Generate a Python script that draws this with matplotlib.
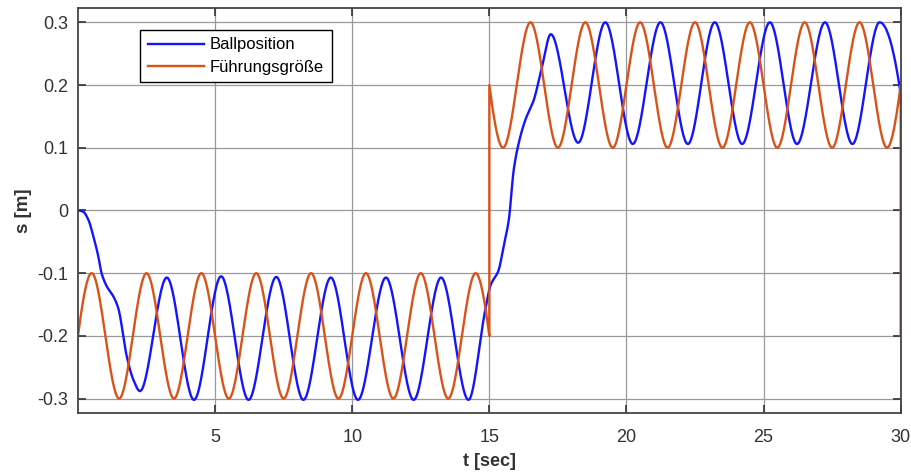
import matplotlib
matplotlib.use('Agg')
import matplotlib.pyplot as plt
import numpy as np

plt.rcParams['font.family'] = ['Liberation Sans', 'DejaVu Sans']
plt.rcParams['axes.unicode_minus'] = False

# Führungsgröße: turning points before and after the setpoint step at t = 15 s
ref_t1 = [0.0, 0.5, 1.5, 2.5, 3.5, 4.5, 5.5, 6.5, 7.5, 8.5, 9.5, 10.5, 11.5, 12.5, 13.5, 14.5, 15.0]
ref_s1 = [-0.2, -0.1, -0.3, -0.1, -0.3, -0.1, -0.3, -0.1, -0.3, -0.1, -0.3, -0.1, -0.3, -0.1, -0.3, -0.1, -0.2]
ref_t2 = [15.0, 15.5, 16.5, 17.5, 18.5, 19.5, 20.5, 21.5, 22.5, 23.5, 24.5, 25.5, 26.5, 27.5, 28.5, 29.5, 30.0]
ref_s2 = [0.2, 0.1, 0.3, 0.1, 0.3, 0.1, 0.3, 0.1, 0.3, 0.1, 0.3, 0.1, 0.3, 0.1, 0.3, 0.1, 0.2]
ref_end = -0.2

# Ballposition: sampled points of the measured response
ball_t = [0.0, 0.19, 0.38, 0.56, 0.74, 0.86, 1.05, 1.29, 1.47, 1.78, 2.02, 2.26,
          3.24, 4.23, 5.22, 6.22, 7.23, 8.22, 9.22, 10.21, 11.23, 12.24, 13.24, 14.24,
          14.85, 15.04, 15.34, 15.52, 15.71, 15.89, 16.07, 16.31, 16.62, 16.92, 17.24,
          18.24, 19.23, 20.23, 21.24, 22.24, 23.22, 24.22, 25.23, 26.22, 27.24, 28.24,
          29.23, 30.23]
ball_s = [0.0, -0.002, -0.015, -0.041, -0.073, -0.100, -0.121, -0.137, -0.156, -0.233, -0.270, -0.288,
          -0.107, -0.302, -0.105, -0.302, -0.106, -0.302, -0.107, -0.302, -0.107, -0.302, -0.107, -0.302,
          -0.159, -0.120, -0.095, -0.057, -0.015, 0.065, 0.107, 0.144, 0.176, 0.229, 0.281,
          0.108, 0.300, 0.106, 0.300, 0.106, 0.300, 0.106, 0.300, 0.106, 0.300, 0.106,
          0.300, 0.106]

yticks = [-0.3, -0.2, -0.1, 0, 0.1, 0.2, 0.3]
ytick_labels = ['-0.3', '-0.2', '-0.1', '0', '0.1', '0.2', '0.3']
xticks = [5, 10, 15, 20, 25, 30]


def pchip(xk, yk, x):
    # shape preserving cubic through the given points
    xk = np.asarray(xk, float)
    yk = np.asarray(yk, float)
    h = np.diff(xk)
    d = np.diff(yk) / h
    m = np.zeros_like(yk)
    w1 = 2 * h[1:] + h[:-1]
    w2 = h[1:] + 2 * h[:-1]
    ok = d[:-1] * d[1:] > 0
    m[1:-1][ok] = (w1[ok] + w2[ok]) / (w1[ok] / d[:-1][ok] + w2[ok] / d[1:][ok])

    def end_slope(h0, h1, d0, d1):
        s = ((2 * h0 + h1) * d0 - h0 * d1) / (h0 + h1)
        if np.sign(s) != np.sign(d0):
            return 0.0
        if np.sign(d0) != np.sign(d1) and abs(s) > abs(3 * d0):
            return 3 * d0
        return s

    m[0] = end_slope(h[0], h[1], d[0], d[1])
    m[-1] = end_slope(h[-1], h[-2], d[-1], d[-2])

    i = np.clip(np.searchsorted(xk, x) - 1, 0, len(h) - 1)
    u = (x - xk[i]) / h[i]
    h00 = 2 * u**3 - 3 * u**2 + 1
    h10 = u**3 - 2 * u**2 + u
    h01 = -2 * u**3 + 3 * u**2
    h11 = u**3 - u**2
    return h00 * yk[i] + h10 * h[i] * m[i] + h01 * yk[i + 1] + h11 * h[i] * m[i + 1]


t1 = np.linspace(ref_t1[0], ref_t1[-1], 1500)
t2 = np.linspace(ref_t2[0], ref_t2[-1], 1500)
ref_t = np.concatenate([t1, t2, [ref_t2[-1]]])
ref_s = np.concatenate([pchip(ref_t1, ref_s1, t1), pchip(ref_t2, ref_s2, t2), [ref_end]])

tb = np.linspace(0, 30, 3000)
sb = pchip(ball_t, ball_s, tb)

fig = plt.figure(figsize=(9.12, 4.72), dpi=100)
ax = fig.add_axes([0.0855, 0.1256, 0.9021, 0.8574])

ax.plot(tb, sb, color='#1414ff', linewidth=1.7, label='Ballposition')
ax.plot(ref_t, ref_s, color='#D95319', linewidth=1.7, label='Führungsgröße')

ax.set_xlim(0, 30)
ax.set_ylim(-0.3225, 0.3228)
ax.set_xticks(xticks)
ax.set_xticklabels([str(x) for x in xticks])
ax.set_yticks(yticks)
ax.set_yticklabels(ytick_labels)
ax.grid(True, color='#999999', linewidth=0.9)
ax.set_axisbelow(True)

ax.tick_params(direction='in', length=6, width=1.2, color='#333333', labelcolor='#333333',
               labelsize=13, top=True, right=True, pad=7)
ax.tick_params(axis='x', pad=12)
for sp in ax.spines.values():
    sp.set_color('#444444')
    sp.set_linewidth(1.3)

ax.set_xlabel('t [sec]', fontsize=13, fontweight='bold', color='#333333', labelpad=5)
ax.set_ylabel('s [m]', fontsize=13.5, fontweight='bold', color='#333333', labelpad=4)

leg = ax.legend(loc='upper left', bbox_to_anchor=(0.0754, 0.9457), borderaxespad=0,
                fancybox=False, framealpha=1, edgecolor='black', fontsize=12,
                handlelength=3.4, handletextpad=0.35, labelspacing=0.45, borderpad=0.45)
leg.get_frame().set_linewidth(1.0)

fig.savefig('out.png', dpi=100)
